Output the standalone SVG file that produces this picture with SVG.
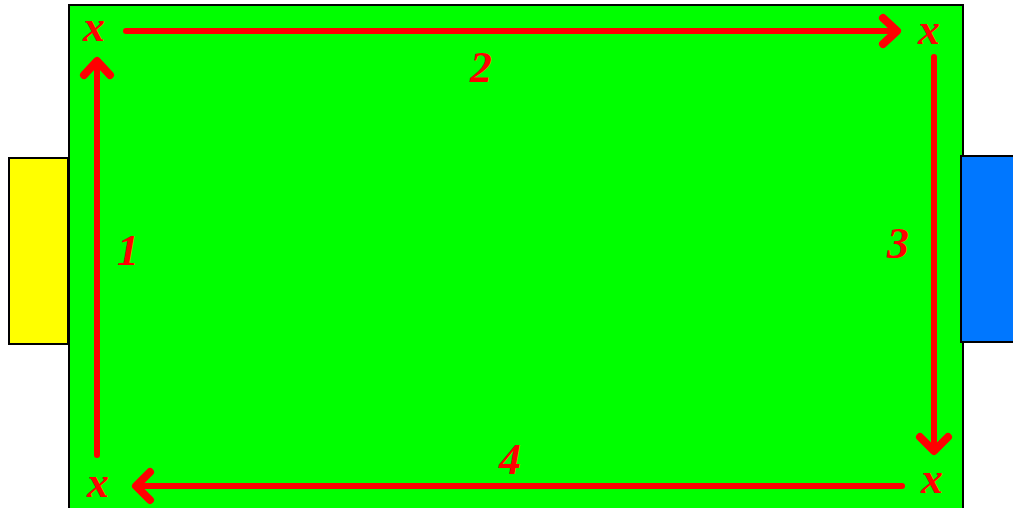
<svg xmlns="http://www.w3.org/2000/svg" width="1013" height="508" viewBox="0 0 1013 508">
<style>
.lbl{font-family:"Liberation Serif","DejaVu Serif",serif;font-style:italic;font-weight:bold;fill:#ff0000;text-anchor:middle}
.x{font-size:44px}
.n{font-size:44px}
.ln{stroke:#ff0000;stroke-width:6;stroke-linecap:round;stroke-linejoin:round;fill:none}
.hd{stroke:#ff0000;stroke-width:8;stroke-linecap:round;stroke-linejoin:round;fill:none}
</style>
<rect width="1013" height="508" fill="#ffffff"/>
<g id="field"><rect x="69" y="5" width="894" height="510" fill="#00ff00" stroke="#000" stroke-width="2"/></g>
<g id="goal-left"><rect x="9" y="158" width="59" height="186" fill="#ffff00" stroke="#000" stroke-width="2"/></g>
<g id="goal-right"><rect x="961" y="156" width="60" height="186" fill="#0077ff" stroke="#000" stroke-width="2"/></g>
<g id="connectors">
<path class="ln" d="M97 455 V62"/><path class="hd" d="M84 75 L97 61 L110 75"/>
<path class="ln" d="M126 31 H896"/><path class="hd" d="M883 18 L897 31 L883 44"/>
<path class="ln" d="M934 57 V450"/><path class="hd" d="M920 437 L934 451 L948 437"/>
<path class="ln" d="M902 486 H137"/><path class="hd" d="M150 472 L136 486 L150 500"/>
</g>
<g id="corners">
<text class="lbl x" x="94" y="41">x</text>
<text class="lbl x" x="929" y="44">x</text>
<text class="lbl x" x="98" y="497">x</text>
<text class="lbl x" x="932" y="493">x</text>
</g>
<g id="labels">
<text class="lbl n" x="128" y="265">1</text>
<text class="lbl n" x="481" y="82">2</text>
<text class="lbl n" x="898" y="258">3</text>
<text class="lbl n" x="510" y="474">4</text>
</g>
</svg>
